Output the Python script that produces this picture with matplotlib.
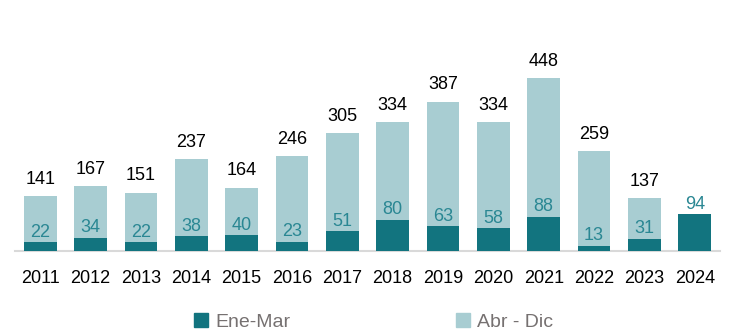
import numpy as np
import matplotlib.pyplot as plt
from matplotlib.patches import Patch

# Casos por año: primer trimestre y resto del año
years = ["2011", "2012", "2013", "2014", "2015", "2016", "2017",
         "2018", "2019", "2020", "2021", "2022", "2023", "2024"]
totals = [141, 167, 151, 237, 164, 246, 305, 334, 387, 334, 448, 259, 137, 94]
ene_mar = [22, 34, 22, 38, 40, 23, 51, 80, 63, 58, 88, 13, 31, 94]
abr_dic = [t - e for t, e in zip(totals, ene_mar)]

dark = "#12747f"
light = "#a8cdd2"
label_teal = "#2a8793"

plt.rcParams["font.family"] = ["Liberation Sans", "DejaVu Sans"]

fig = plt.figure(figsize=(7.33, 3.32), dpi=100)
ax = fig.add_axes([15 / 733, 0.245, 705 / 733, 0.58])

x = np.arange(len(years))
w = 0.65
ax.bar(x, abr_dic, w, bottom=ene_mar, color=light, zorder=1)
ax.bar(x, ene_mar, w, color=dark, zorder=3)

for i in range(len(years)):
    ax.annotate(str(ene_mar[i]), (x[i], ene_mar[i]), xytext=(0, 1),
                textcoords="offset points", ha="center", va="bottom",
                fontsize=13, color=label_teal, zorder=2)
    if abr_dic[i] > 0:
        ax.annotate(str(totals[i]), (x[i], totals[i]), xytext=(0, 6),
                    textcoords="offset points", ha="center", va="bottom",
                    fontsize=13, color="black", zorder=4)

ax.set_xlim(-0.5, len(years) - 0.5)
ax.set_ylim(0, 500)
ax.set_xticks(x)
ax.set_xticklabels(years, fontsize=13)
ax.tick_params(axis="x", length=0, pad=14)
ax.set_yticks([])
for side in ["top", "right", "left"]:
    ax.spines[side].set_visible(False)
ax.spines["bottom"].set_color("#d9d9d9")
ax.spines["bottom"].set_linewidth(1.5)

handles = [Patch(color=dark, label="Ene-Mar"), Patch(color=light, label="Abr - Dic")]
leg = fig.legend(handles=handles, loc="center", bbox_to_anchor=(0.51, 0.03),
                 ncol=2, frameon=False, fontsize=14, handlelength=0.7,
                 handleheight=0.7, handletextpad=0.4, columnspacing=8.5)
for t in leg.get_texts():
    t.set_color("#767171")

fig.savefig("out.png", dpi=100)
